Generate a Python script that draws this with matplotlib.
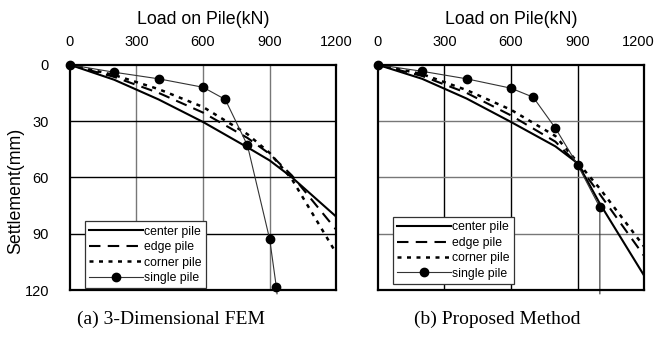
import numpy as np
import matplotlib.pyplot as plt
import matplotlib.transforms as mtransforms

# loads (kN) where the pile curves were read
load = [0, 200, 400, 600, 800, 900, 1000, 1200]

# (a) 3-Dimensional FEM, settlement (mm)
center_a = [0, 8, 18.5, 30.5, 44, 51, 60, 81]
edge_a = [0, 6.5, 15, 25.5, 39, 47.5, 59, 88]
corner_a = [0, 5.5, 13, 22.5, 37, 47, 61, 100.5]
single_load_a = [0, 200, 400, 600, 700, 800, 900, 930, 933]
single_a = [0, 4, 7.5, 12, 18.5, 43, 93, 118.5, 122]

# (b) Proposed Method, settlement (mm)
center_b = [0, 7.5, 18, 30.5, 43.5, 52.5, 74, 112.5]
edge_b = [0, 6, 15, 27, 41, 53, 69, 102]
corner_b = [0, 5, 13.5, 24, 38, 52, 66, 97]
single_load_b = [0, 200, 400, 600, 700, 800, 900, 1000, 1000]
single_b = [0, 3.5, 7.5, 12.5, 17.3, 33.8, 53.4, 76, 122]

xticks = [0, 300, 600, 900, 1200]
yticks = [0, 30, 60, 90, 120]
captions = ['(a) 3-Dimensional FEM', '(b) Proposed Method']

plt.rcParams['font.family'] = ['Liberation Sans', 'DejaVu Sans']


def draw_panel(ax, center, edge, corner, sl, ss, vcol, hcol, leg_anchor):
    # grid first so curves sit on top
    for x in xticks[1:-1]:
        ax.axvline(x, color=vcol, lw=1.0, zorder=1)
    for y in yticks[1:-1]:
        ax.axhline(y, color=hcol, lw=1.0, zorder=1)

    ax.plot(load, center, color='black', lw=1.5, ls='-', label='center pile', zorder=3)
    ax.plot(load, edge, color='black', lw=1.5, ls=(0, (5.5, 3.5)), label='edge pile', zorder=3)
    ax.plot(load, corner, color='black', lw=1.8, ls=(0, (1.6, 2.2)), label='corner pile', zorder=3)
    n = len(sl) - 1
    ax.plot(sl, ss, color='#333333', lw=0.8, marker='o', ms=6, mfc='black', mec='black',
            markevery=list(range(n)), label='single pile', zorder=4, clip_on=False)

    ax.set_xlim(0, 1200)
    ax.set_ylim(120, 0)
    ax.xaxis.tick_top()
    ax.set_xticks(xticks)
    ax.set_yticks(yticks)
    ax.tick_params(axis='x', length=0, labelsize=10.5, pad=11)
    ax.tick_params(axis='y', length=0, labelsize=10.5, pad=15)
    for s in ax.spines.values():
        s.set_linewidth(1.6)
        s.set_zorder(5)

    leg = ax.legend(loc='lower left', bbox_to_anchor=leg_anchor, borderaxespad=0,
                    fontsize=8.8, handlelength=4.4, handletextpad=0.1, labelspacing=0.28,
                    borderpad=0.35, fancybox=False, framealpha=1, edgecolor='#333333')
    leg.get_frame().set_linewidth(0.9)
    leg.set_zorder(6)


fig = plt.figure(figsize=(6.59, 3.45), dpi=100)
ax1 = fig.add_axes([0.1058, 0.1594, 0.4046, 0.653])
ax2 = fig.add_axes([0.5731, 0.1594, 0.4046, 0.653])

draw_panel(ax1, center_a, edge_a, corner_a, single_load_a, single_a,
           '#777777', 'black', (0.057, 0.008))
draw_panel(ax2, center_b, edge_b, corner_b, single_load_b, single_b,
           'black', '#777777', (0.058, 0.027))

ax1.set_yticklabels([str(v) for v in yticks])
ax2.set_yticklabels([])
ax1.set_ylabel('Settlement(mm)', fontsize=12.8)
ax1.yaxis.set_label_coords(-0.17, 0.44)

# last top tick label of the right panel sits a little left, as in the figure
fig.canvas.draw()
lab = ax2.get_xticklabels()[-1]
lab.set_transform(lab.get_transform() + mtransforms.ScaledTranslation(-6 / 100, 0, fig.dpi_scale_trans))

for ax, cap in zip([ax1, ax2], captions):
    ax.set_xlabel('Load on Pile(kN)', fontsize=12.8, labelpad=8)
    ax.xaxis.set_label_position('top')
    ax.text(0.38 if ax is ax1 else 0.45, -0.093, cap, transform=ax.transAxes,
            ha='center', va='top', fontsize=14, family=['Liberation Serif', 'DejaVu Serif'])

fig.savefig('out.png', dpi=100)
